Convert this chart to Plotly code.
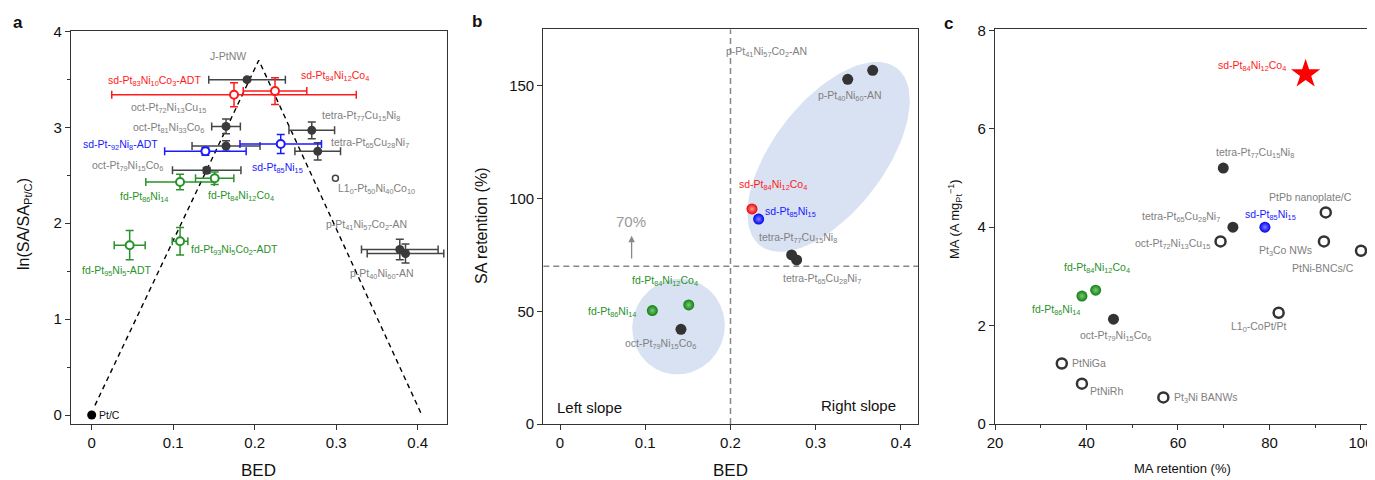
import numpy as np
import plotly.graph_objects as go

# The page body has an 8px default margin; the figure is sized/offset to compensate.
OFF = 8
SCREEN_W, SCREEN_H = 1375, 480
W, H = SCREEN_W - OFF, SCREEN_H - OFF
FONT = "Liberation Sans, Arial, sans-serif"
GRAY = "#808080"
RED = "#ff1a1a"
BLUE = "#1a1aff"
GREEN = "#2a922a"
DARK = "#3a3a3a"

# ---------------- Panel a data ----------------
a_black_x = [0.1906, 0.1648, 0.1648, 0.270, 0.2773, 0.1411, 0.378, 0.385]
a_black_y = [3.497, 3.01, 2.805, 2.969, 2.75, 2.552, 1.726, 1.684]
a_black_xe = [0.047, 0.0176, 0.0417, 0.028, 0.028, 0.042, 0.047, 0.047]
a_black_ye = [0.0, 0.078, 0.055, 0.087, 0.09, 0.03, 0.108, 0.10]

a_red_x = [0.1746, 0.2249]
a_red_y = [3.34, 3.378]
a_red_xe = [0.150, 0.039]
a_red_ye = [0.125, 0.139]

a_blue_x = [0.1395, 0.2319]
a_blue_y = [2.75, 2.826]
a_blue_xe = [0.050, 0.050]
a_blue_ye = [0.04, 0.10]

a_green_x = [0.1084, 0.1509, 0.0466, 0.1084]
a_green_y = [2.43, 2.469, 1.771, 1.8125]
a_green_xe = [0.042, 0.0235, 0.019, 0.0096]
a_green_ye = [0.08, 0.064, 0.153, 0.144]

a_gray_x = [0.299]
a_gray_y = [2.469]

a_ptc_x = [0.0]
a_ptc_y = [0.0]

a_volcano_x = [0.004, 0.205, 0.405]
a_volcano_y = [0.1, 3.7, 0.0]

a_labels = [
    ("J-PtNW", 0.167, 3.746, GRAY),
    ("sd-Pt<sub>83</sub>Ni<sub>10</sub>Co<sub>3</sub>-ADT", 0.0765, 3.486, RED),
    ("sd-Pt<sub>84</sub>Ni<sub>12</sub>Co<sub>4</sub>", 0.298, 3.539, RED),
    ("oct-Pt<sub>72</sub>Ni<sub>13</sub>Cu<sub>15</sub>", 0.0937, 3.205, GRAY),
    ("oct-Pt<sub>81</sub>Ni<sub>33</sub>Co<sub>6</sub>", 0.0937, 2.993, GRAY),
    ("tetra-Pt<sub>77</sub>Cu<sub>15</sub>Ni<sub>8</sub>", 0.330, 3.122, GRAY),
    ("sd-Pt-<sub>92</sub>Ni<sub>8</sub>-ADT", 0.0352, 2.8125, BLUE),
    ("tetra-Pt<sub>65</sub>Cu<sub>28</sub>Ni<sub>7</sub>", 0.341, 2.836, GRAY),
    ("oct-Pt<sub>79</sub>Ni<sub>15</sub>Co<sub>6</sub>", 0.0442, 2.594, GRAY),
    ("sd-Pt<sub>85</sub>Ni<sub>15</sub>", 0.228, 2.573, BLUE),
    ("L1<sub>0</sub>-Pt<sub>50</sub>Ni<sub>40</sub>Co<sub>10</sub>", 0.349, 2.36, GRAY),
    ("fd-Pt<sub>86</sub>Ni<sub>14</sub>", 0.0638, 2.274, GREEN),
    ("fd-Pt<sub>84</sub>Ni<sub>12</sub>Co<sub>4</sub>", 0.1837, 2.289, GREEN),
    ("p-Pt<sub>41</sub>Ni<sub>57</sub>Co<sub>2</sub>-AN", 0.337, 1.979, GRAY),
    ("fd-Pt<sub>93</sub>Ni<sub>5</sub>Co<sub>2</sub>-ADT", 0.1755, 1.719, GREEN),
    ("fd-Pt<sub>95</sub>Ni<sub>5</sub>-ADT", 0.0303, 1.503, GREEN),
    ("p-Pt<sub>40</sub>Ni<sub>60</sub>-AN", 0.3567, 1.466, GRAY),
    ("Pt/C", 0.022, 0.0, "#111111"),
]

# ---------------- Panel b data ----------------
b_black_x = [0.3375, 0.3668, 0.2717, 0.2776, 0.1419]
b_black_y = [152.9, 156.9, 75.0, 72.8, 42.0]
b_red_x = [0.2252]
b_red_y = [95.4]
b_blue_x = [0.2330]
b_blue_y = [90.9]
b_green_x = [0.1083, 0.151]
b_green_y = [50.3, 52.8]
b_threshold_y = 70
b_threshold_x = 0.2

b_labels = [
    ("p-Pt<sub>41</sub>Ni<sub>57</sub>Co<sub>2</sub>-AN", 0.2425, 164.9, GRAY),
    ("p-Pt<sub>40</sub>Ni<sub>60</sub>-AN", 0.340, 145.7, GRAY),
    ("sd-Pt<sub>84</sub>Ni<sub>12</sub>Co<sub>4</sub>", 0.2502, 106.0, RED),
    ("sd-Pt<sub>85</sub>Ni<sub>15</sub>", 0.2698, 94.2, BLUE),
    ("tetra-Pt<sub>77</sub>Cu<sub>15</sub>Ni<sub>8</sub>", 0.2796, 82.4, GRAY),
    ("tetra-Pt<sub>65</sub>Cu<sub>28</sub>Ni<sub>7</sub>", 0.307, 64.2, GRAY),
    ("fd-Pt<sub>84</sub>Ni<sub>12</sub>Co<sub>4</sub>", 0.1232, 63.4, GREEN),
    ("fd-Pt<sub>86</sub>Ni<sub>14</sub>", 0.0614, 49.8, GREEN),
    ("oct-Pt<sub>79</sub>Ni<sub>15</sub>Co<sub>6</sub>", 0.1173, 35.4, GRAY),
]

# ---------------- Panel c data ----------------
c_star_x = [87.9]
c_star_y = [7.11]
c_black_x = [69.9, 72.0, 45.9]
c_black_y = [5.20, 4.00, 2.13]
c_blue_x = [79.0]
c_blue_y = [4.00]
c_green_x = [42.0, 39.0]
c_green_y = [2.72, 2.60]
c_open_x = [92.3, 69.3, 91.9, 100.0, 82.0, 34.6, 39.0, 56.8]
c_open_y = [4.30, 3.71, 3.71, 3.52, 2.26, 1.23, 0.82, 0.54]

c_labels = [
    ("sd-Pt<sub>84</sub>Ni<sub>12</sub>Co<sub>4</sub>", 76.1, 7.28, RED),
    ("tetra-Pt<sub>77</sub>Cu<sub>15</sub>Ni<sub>8</sub>", 76.8, 5.50, GRAY),
    ("PtPb nanoplate/C", 88.9, 4.62, GRAY),
    ("tetra-Pt<sub>65</sub>Cu<sub>28</sub>Ni<sub>7</sub>", 60.7, 4.21, GRAY),
    ("sd-Pt<sub>85</sub>Ni<sub>15</sub>", 80.3, 4.25, BLUE),
    ("oct-Pt<sub>72</sub>Ni<sub>13</sub>Cu<sub>15</sub>", 58.8, 3.66, GRAY),
    ("Pt<sub>3</sub>Co NWs", 83.5, 3.52, GRAY),
    ("PtNi-BNCs/C", 91.8, 3.18, GRAY),
    ("fd-Pt<sub>84</sub>Ni<sub>12</sub>Co<sub>4</sub>", 42.2, 3.16, GREEN),
    ("fd-Pt<sub>86</sub>Ni<sub>14</sub>", 33.3, 2.32, GREEN),
    ("L1<sub>0</sub>-CoPt/Pt", 77.7, 1.98, GRAY),
    ("oct-Pt<sub>79</sub>Ni<sub>15</sub>Co<sub>6</sub>", 46.4, 1.79, GRAY),
    ("PtNiGa", 40.5, 1.23, GRAY),
    ("PtNiRh", 44.4, 0.68, GRAY),
    ("Pt<sub>3</sub>Ni BANWs", 66.1, 0.52, GRAY),
]


# ---------------- layout geometry (screen pixels -> paper) ----------------
def px(x):
    return (x - OFF) / W


def py(y):
    return 1 - (y - OFF) / H


a_dom_x = [px(71), px(446.5)]
a_dom_y = [py(424.3), py(30.5)]
a_rng_x = [-0.0254, 0.4353]
a_rng_y = [-0.097, 4.01]

b_dom_x = [px(543.3), px(918.3)]
b_dom_y = [py(424), py(29.3)]
b_rng_x = [-0.0196, 0.4203]
b_rng_y = [0, 175.1]

c_dom_x = [px(995), px(1370)]
c_dom_y = [py(424), py(29.3)]
c_rng_x = [20, 101.97]
c_rng_y = [0, 8.02]

fig = go.Figure()


def errtrace(x, y, xe, ye, color, fill, xa, ya, size=8, lw=2):
    fig.add_trace(go.Scatter(
        x=x, y=y, mode="markers", xaxis=xa, yaxis=ya,
        marker=dict(size=size, color=fill, line=dict(color=color, width=lw)),
        error_x=dict(type="data", array=xe, color=color, thickness=1.5, width=4),
        error_y=dict(type="data", array=ye, color=color, thickness=1.5, width=4),
        showlegend=False, hoverinfo="skip"))


# Panel a
fig.add_trace(go.Scatter(x=a_volcano_x, y=a_volcano_y, mode="lines", xaxis="x", yaxis="y",
                         line=dict(color="black", width=1.4, dash="5px,4px"),
                         showlegend=False, hoverinfo="skip"))
errtrace(a_black_x, a_black_y, a_black_xe, a_black_ye, "#454545", DARK, "x", "y", size=9, lw=0)
errtrace(a_red_x, a_red_y, a_red_xe, a_red_ye, RED, "white", "x", "y")
errtrace(a_blue_x, a_blue_y, a_blue_xe, a_blue_ye, BLUE, "white", "x", "y")
errtrace(a_green_x, a_green_y, a_green_xe, a_green_ye, GREEN, "white", "x", "y")
fig.add_trace(go.Scatter(x=a_gray_x, y=a_gray_y, mode="markers", xaxis="x", yaxis="y",
                         marker=dict(size=6, color="white", line=dict(color="#444", width=1.5)),
                         showlegend=False, hoverinfo="skip"))
fig.add_trace(go.Scatter(x=a_ptc_x, y=a_ptc_y, mode="markers", xaxis="x", yaxis="y",
                         marker=dict(size=9, color="black"), cliponaxis=False,
                         showlegend=False, hoverinfo="skip"))


# Panel b ellipses (shape decoration, in pixel-space semi-axes)
def ellipse(cx, cy, a_px, b_px, theta_deg, dom_x, rng_x, dom_y, rng_y):
    pxx = (dom_x[1] - dom_x[0]) * W / (rng_x[1] - rng_x[0])
    pxy = (dom_y[1] - dom_y[0]) * H / (rng_y[1] - rng_y[0])
    t = np.linspace(0, 2 * np.pi, 120)
    th = np.radians(theta_deg)
    dx = a_px * np.cos(t) * np.cos(th) - b_px * np.sin(t) * np.sin(th)
    dy = a_px * np.cos(t) * np.sin(th) + b_px * np.sin(t) * np.cos(th)
    return cx + dx / pxx, cy + dy / pxy


for (cx, cy, ea, eb, et) in [(0.315, 118.5, 112, 55.4, 52.4), (0.139, 43.2, 48, 46, 70)]:
    ex, ey = ellipse(cx, cy, ea, eb, et, b_dom_x, b_rng_x, b_dom_y, b_rng_y)
    fig.add_trace(go.Scatter(x=ex, y=ey, mode="lines", fill="toself", xaxis="x2", yaxis="y2",
                             fillcolor="#d9e2f2", line=dict(width=0, color="#d9e2f2"),
                             showlegend=False, hoverinfo="skip"))

fig.add_trace(go.Scatter(x=[b_threshold_x, b_threshold_x], y=[b_rng_y[0], b_rng_y[1]], mode="lines",
                         xaxis="x2", yaxis="y2", line=dict(color="#888", width=1.5, dash="6px,4px"),
                         showlegend=False, hoverinfo="skip"))
fig.add_trace(go.Scatter(x=[b_rng_x[0], b_rng_x[1]], y=[b_threshold_y, b_threshold_y], mode="lines",
                         xaxis="x2", yaxis="y2", line=dict(color="#888", width=1.5, dash="6px,4px"),
                         showlegend=False, hoverinfo="skip"))


def sphere(x, y, color, hl, xa, ya, size=11):
    fig.add_trace(go.Scatter(x=x, y=y, mode="markers", xaxis=xa, yaxis=ya,
                             marker=dict(size=size, color=color, gradient=dict(type="radial", color=hl),
                                         line=dict(width=0)),
                             showlegend=False, hoverinfo="skip"))


fig.add_trace(go.Scatter(x=b_black_x, y=b_black_y, mode="markers", xaxis="x2", yaxis="y2",
                         marker=dict(size=11, color="#333"), showlegend=False, hoverinfo="skip"))
sphere(b_red_x, b_red_y, "#ee0000", "#ff9a9a", "x2", "y2")
sphere(b_blue_x, b_blue_y, "#0000ee", "#8080ff", "x2", "y2")
sphere(b_green_x, b_green_y, "#0f7f0f", "#7cc87c", "x2", "y2")

# Panel c
fig.add_trace(go.Scatter(x=c_star_x, y=c_star_y, mode="markers", xaxis="x3", yaxis="y3",
                         marker=dict(size=22, color="#ff0000", symbol="star", line=dict(width=0)),
                         showlegend=False, hoverinfo="skip"))
fig.add_trace(go.Scatter(x=c_black_x, y=c_black_y, mode="markers", xaxis="x3", yaxis="y3",
                         marker=dict(size=11, color="#333"), showlegend=False, hoverinfo="skip"))
sphere(c_blue_x, c_blue_y, "#0000ee", "#8080ff", "x3", "y3")
sphere(c_green_x, c_green_y, "#0f7f0f", "#7cc87c", "x3", "y3")
fig.add_trace(go.Scatter(x=c_open_x, y=c_open_y, mode="markers", xaxis="x3", yaxis="y3",
                         marker=dict(size=10, color="white", line=dict(color="#333", width=2.5)),
                         cliponaxis=False, showlegend=False, hoverinfo="skip"))

annotations = []
for (txt, x, y, col) in a_labels:
    annotations.append(dict(text=txt, x=x, y=y, xref="x", yref="y", showarrow=False,
                            font=dict(size=10.5, color=col, family=FONT)))
for (txt, x, y, col) in b_labels:
    annotations.append(dict(text=txt, x=x, y=y, xref="x2", yref="y2", showarrow=False,
                            font=dict(size=10.5, color=col, family=FONT)))
for (txt, x, y, col) in c_labels:
    annotations.append(dict(text=txt, x=x, y=y, xref="x3", yref="y3", showarrow=False,
                            font=dict(size=10.5, color=col, family=FONT)))

# panel b extras
annotations.append(dict(text="70%", x=0.0833, y=89.7, xref="x2", yref="y2", showarrow=False,
                        font=dict(size=15, color="#999", family=FONT)))
annotations.append(dict(text="", x=0.084, y=83.5, ax=0.084, ay=72.8, xref="x2", yref="y2",
                        axref="x2", ayref="y2", showarrow=True, arrowhead=2, arrowsize=1,
                        arrowwidth=1.3, arrowcolor="#888"))
annotations.append(dict(text="Left slope", x=0.0344, y=7.5, xref="x2", yref="y2", showarrow=False,
                        font=dict(size=15, color="#111", family=FONT)))
annotations.append(dict(text="Right slope", x=0.35, y=8.3, xref="x2", yref="y2", showarrow=False,
                        font=dict(size=15, color="#111", family=FONT)))


def paper_ann(txt, sx, sy, size, angle=0, bold=False):
    annotations.append(dict(text=f"<b>{txt}</b>" if bold else txt, x=px(sx), y=py(sy),
                            xref="paper", yref="paper", showarrow=False, textangle=angle,
                            xanchor="center", yanchor="middle",
                            font=dict(size=size, color="#111", family=FONT)))


paper_ann("a", 18, 22, 17, bold=True)
paper_ann("b", 477, 21, 17, bold=True)
paper_ann("c", 948, 23, 17, bold=True)
paper_ann("ln(SA/SA<sub>Pt/C</sub>)", 24, 224, 16, angle=-90)
paper_ann("SA retention (%)", 481, 226, 16, angle=-90)
paper_ann("MA (A mg<sub>Pt</sub><sup>−1</sup>)", 955, 219, 13, angle=-90)
paper_ann("BED", 258, 470, 17)
paper_ann("BED", 730, 470, 17)
paper_ann("MA retention (%)", 1182, 468, 13)

axis_common = dict(showline=True, linecolor="#333", linewidth=1.2, mirror=True, ticks="outside",
                   ticklen=5, tickwidth=1.2, tickcolor="#333", showgrid=False, zeroline=False,
                   automargin=False,
                   tickfont=dict(size=15, color="#111", family=FONT))

fig.update_layout(
    width=W, height=H, margin=dict(l=0, r=0, t=0, b=0, pad=0, autoexpand=False),
    plot_bgcolor="white", paper_bgcolor="white",
    font=dict(family=FONT),
    xaxis=dict(domain=a_dom_x, range=a_rng_x, anchor="y", tickvals=[0, 0.1, 0.2, 0.3, 0.4],
               ticktext=["0", "0.1", "0.2", "0.3", "0.4"], **axis_common),
    yaxis=dict(domain=a_dom_y, range=a_rng_y, anchor="x", tickvals=[0, 1, 2, 3, 4],
               minor=dict(dtick=0.5, ticks="outside", ticklen=3, tickcolor="#333"), **axis_common),
    xaxis2=dict(domain=b_dom_x, range=b_rng_x, anchor="y2", tickvals=[0, 0.1, 0.2, 0.3, 0.4],
                ticktext=["0", "0.1", "0.2", "0.3", "0.4"], **axis_common),
    yaxis2=dict(domain=b_dom_y, range=b_rng_y, anchor="x2", tickvals=[0, 50, 100, 150], **axis_common),
    xaxis3=dict(domain=c_dom_x, range=c_rng_x, anchor="y3", tickvals=[20, 40, 60, 80, 100],
                minor=dict(dtick=10, tick0=0, ticks="outside", ticklen=3, tickcolor="#333"), **axis_common),
    yaxis3=dict(domain=c_dom_y, range=c_rng_y, anchor="x3", tickvals=[0, 2, 4, 6, 8], **axis_common),
    annotations=annotations,
)

fig.write_html("out.html")
